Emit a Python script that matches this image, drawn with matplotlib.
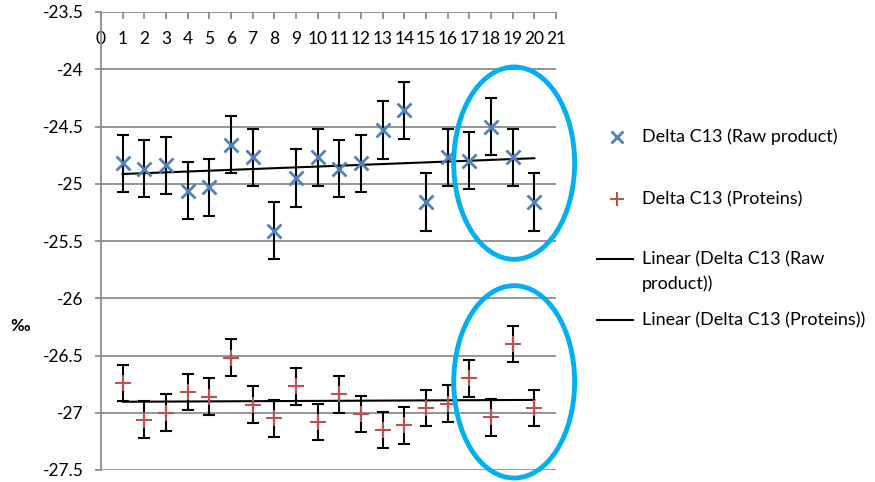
import numpy as np
import matplotlib.pyplot as plt
from matplotlib.patches import Ellipse
from matplotlib.lines import Line2D

plt.rcParams['font.family'] = ['Lato', 'DejaVu Sans']

x = np.arange(1, 21)
raw = [-24.82, -24.87, -24.84, -25.06, -25.03, -24.66, -24.77, -25.41, -24.95, -24.77,
       -24.87, -24.82, -24.53, -24.36, -25.16, -24.77, -24.80, -24.50, -24.77, -25.16]
raw_err = 0.25
prot = [-26.74, -27.06, -27.00, -26.82, -26.86, -26.52, -26.93, -27.05, -26.77, -27.08,
        -26.84, -27.01, -27.15, -27.11, -26.96, -26.92, -26.70, -27.04, -26.40, -26.96]
prot_err = 0.16

labels = ["Delta C13 (Raw product)", "Delta C13 (Proteins)",
          "Linear (Delta C13 (Raw\nproduct))", "Linear (Delta C13 (Proteins))"]

blue = '#4F81BD'
red = '#C0504D'
grid_c = '#8C8C8C'
ring = '#00B0F0'

fig = plt.figure(figsize=(8.75, 4.82), dpi=100)
ax = fig.add_axes([101/875, 1-470/482, 455/875, 458/482])

ax.set_xlim(0, 21)
ax.set_ylim(-27.5, -23.5)
ax.set_yticks(np.arange(-27.5, -23.4, 0.5))
ax.set_yticklabels(['-27.5', '-27', '-26.5', '-26', '-25.5', '-25', '-24.5', '-24', '-23.5'])
ax.set_xticks(range(0, 22))
ax.grid(axis='y', color=grid_c, lw=1.3)
ax.set_axisbelow(True)
for s in ['right', 'bottom', 'top']:
    ax.spines[s].set_visible(False)
ax.spines['left'].set_color(grid_c)
ax.spines['left'].set_linewidth(1.3)
ax.tick_params(axis='y', color=grid_c, length=4.5, width=1.3, labelsize=12.5, pad=8)
ax.tick_params(axis='x', bottom=False, top=True, labelbottom=False, labeltop=True,
               direction='in', color=grid_c, length=5, width=1.3, labelsize=12.5, pad=-25)

# error bars and points
ax.errorbar(x, raw, yerr=raw_err, fmt='none', ecolor='black', elinewidth=1.5,
            capsize=4.5, capthick=1.5, zorder=3)
ax.errorbar(x, prot, yerr=prot_err, fmt='none', ecolor='black', elinewidth=1.5,
            capsize=4.5, capthick=1.5, zorder=3)

# trend lines
for ys in (raw, prot):
    k, b = np.polyfit(x, ys, 1)
    ax.plot([x[0], x[-1]], [k*x[0]+b, k*x[-1]+b], color='black', lw=1.5, zorder=4)

ax.plot(x, raw, ls='none', marker='x', ms=10, mew=2, color=blue, zorder=5)
ax.plot(x, prot, ls='none', marker='+', ms=12, mew=1.5, color=red, zorder=5)

# highlight rings
for cy in (-24.82, -26.73):
    ax.add_patch(Ellipse((19.07, cy), 5.58, 1.68, fill=False, ec=ring, lw=3.5,
                         clip_on=False, zorder=6))

fig.text(20/875, 1-326/482, '‰', fontsize=12, fontweight='bold', ha='center', va='center')

# legend
def fy(py):
    return 1 - py/482

fig.add_artist(Line2D([617/875], [fy(137)], marker='x', ms=8, mew=2, color=blue))
fig.add_artist(Line2D([617/875], [fy(199)], marker='+', ms=10, mew=1.5, color=red))
fig.add_artist(Line2D([597/875, 633/875], [fy(259)]*2, color='black', lw=1.5))
fig.add_artist(Line2D([597/875, 633/875], [fy(320)]*2, color='black', lw=1.5))
fig.text(642/875, fy(137), labels[0], fontsize=13, va='center')
fig.text(642/875, fy(199), labels[1], fontsize=13, va='center')
fig.text(642/875, fy(259), labels[2].split('\n')[0], fontsize=13, va='center')
fig.text(642/875, fy(284), labels[2].split('\n')[1], fontsize=13, va='center')
fig.text(642/875, fy(320), labels[3], fontsize=13, va='center')

fig.savefig('out.png', dpi=100)
